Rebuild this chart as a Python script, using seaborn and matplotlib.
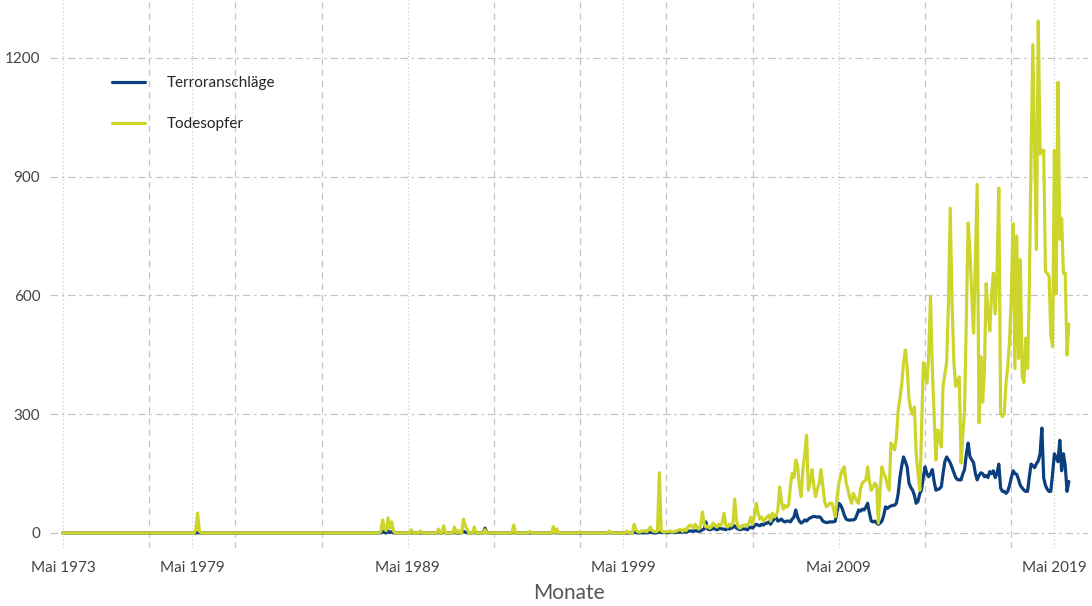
import matplotlib
matplotlib.use("Agg")
import matplotlib.pyplot as plt
import matplotlib.dates as mdates
import pandas as pd
import seaborn as sns

sns.set_style("white")
plt.rcParams["font.family"] = ["Lato", "DejaVu Sans"]

# ----------------------------
# Data (monthly counts, May 1973 - Jan 2020)
# ----------------------------
start_month = "1973-05"
end_month = "2020-01"

# before 2000 the series sit on zero except for these months
early_months = ["1979-07", "1979-08", "1979-09",
                "1988-02", "1988-03", "1988-04", "1988-05", "1988-06", "1988-07", "1988-08", "1988-09",
                "1989-07", "1989-12", "1990-10", "1991-01", "1991-07", "1991-09", "1991-12",
                "1992-01", "1992-02", "1992-06", "1992-12", "1994-04", "1995-01",
                "1996-02", "1996-04", "1997-05", "1998-09", "1999-07", "1999-11", "1999-12"]
early_attacks = [0, 1, 0,
                 0, 4, 1, 0, 5, 1, 3, 0,
                 1, 0, 1, 2, 1, 0, 4,
                 2, 1, 2, 12, 2, 0,
                 3, 1, 0, 1, 0, 2, 1]
early_deaths = [8, 50, 4,
                5, 33, 10, 6, 38, 12, 28, 5,
                8, 5, 10, 18, 15, 6, 35,
                18, 10, 15, 8, 20, 4,
                16, 10, 3, 5, 5, 22, 8]

# one row per year, 2000 ... 2019 (Jan - Dec)
attacks_by_year = [
    [0, 0, 1, 0, 1, 0, 1, 2, 1, 0, 0, 1],
    [3, 1, 1, 1, 1, 1, 2, 1, 1, 1, 2, 2],
    [2, 2, 3, 2, 4, 5, 5, 4, 6, 5, 4, 5],
    [8, 10, 28, 10, 8, 9, 12, 10, 8, 10, 12, 10],
    [10, 8, 12, 10, 12, 14, 18, 12, 10, 8, 10, 10],
    [10, 8, 12, 15, 12, 18, 22, 20, 18, 22, 20, 24],
    [25, 28, 22, 30, 35, 40, 30, 32, 35, 30, 28, 30],
    [30, 28, 35, 40, 58, 40, 30, 25, 28, 33, 30, 35],
    [38, 40, 42, 41, 40, 41, 38, 30, 28, 26, 27, 28],
    [28, 28, 30, 55, 75, 70, 60, 45, 35, 33, 32, 33],
    [33, 35, 45, 58, 55, 60, 58, 65, 75, 50, 30, 28],
    [30, 25, 22, 25, 30, 45, 66, 62, 66, 68, 70, 70],
    [75, 100, 140, 170, 192, 180, 167, 126, 115, 108, 95, 75],
    [80, 100, 108, 140, 167, 150, 142, 150, 160, 130, 108, 110],
    [112, 117, 150, 180, 192, 185, 177, 165, 152, 140, 135, 134],
    [134, 150, 160, 200, 227, 192, 185, 177, 150, 134, 145, 152],
    [150, 142, 145, 140, 155, 150, 157, 140, 150, 174, 114, 105],
    [105, 100, 105, 120, 140, 157, 150, 148, 135, 120, 114, 108],
    [105, 105, 140, 174, 170, 165, 175, 182, 200, 265, 139, 120],
    [110, 105, 105, 150, 200, 190, 180, 234, 157, 200, 170, 105],
]
deaths_by_year = [
    [3, 2, 5, 4, 6, 3, 8, 15, 6, 4, 3, 5],
    [152, 6, 3, 2, 4, 3, 5, 2, 3, 4, 6, 8],
    [8, 4, 10, 6, 15, 20, 18, 12, 22, 15, 10, 18],
    [53, 22, 15, 18, 12, 15, 25, 20, 15, 22, 18, 25],
    [50, 20, 15, 22, 18, 25, 86, 30, 15, 12, 18, 20],
    [20, 18, 25, 40, 22, 45, 75, 50, 35, 40, 30, 35],
    [40, 45, 30, 50, 40, 45, 55, 116, 80, 60, 70, 65],
    [70, 120, 150, 140, 184, 170, 120, 92, 163, 200, 247, 108],
    [130, 160, 120, 92, 110, 126, 160, 120, 80, 66, 70, 75],
    [75, 60, 41, 90, 126, 145, 160, 167, 126, 110, 90, 75],
    [100, 90, 80, 75, 110, 126, 130, 134, 167, 130, 108, 115],
    [126, 120, 25, 110, 167, 150, 142, 120, 108, 227, 220, 210],
    [240, 310, 340, 378, 430, 462, 420, 340, 310, 300, 318, 200],
    [150, 108, 250, 430, 400, 378, 450, 597, 412, 300, 184, 260],
    [240, 217, 370, 400, 430, 580, 820, 580, 430, 370, 380, 394],
    [177, 250, 310, 550, 783, 707, 600, 505, 700, 880, 278, 445],
    [330, 412, 630, 560, 510, 600, 656, 553, 665, 871, 303, 294],
    [300, 380, 420, 484, 600, 781, 415, 750, 441, 690, 398, 380],
    [492, 415, 604, 949, 1233, 957, 716, 1293, 957, 966, 966, 660],
    [656, 647, 501, 470, 966, 604, 1138, 742, 794, 656, 656, 449],
]
attacks_jan_2020 = 130
deaths_jan_2020 = 527

tick_years = [1973, 1979, 1989, 1999, 2009, 2019]
grid_years = list(range(1973, 2018, 4))

blue = "#0b3f7d"
yellow = "#cdd52c"

# ----------------------------
# Build monthly table
# ----------------------------
months = pd.period_range(start_month, end_month, freq="M")
attacks = pd.Series(0.0, index=months)
deaths = pd.Series(0.0, index=months)
for m, a, d in zip(early_months, early_attacks, early_deaths):
    attacks[pd.Period(m, freq="M")] = a
    deaths[pd.Period(m, freq="M")] = d

recent = pd.period_range("2000-01", end_month, freq="M")
attacks[recent] = [v for row in attacks_by_year for v in row] + [attacks_jan_2020]
deaths[recent] = [v for row in deaths_by_year for v in row] + [deaths_jan_2020]

df = pd.DataFrame({
    "Monat": months.to_timestamp(),
    "Terroranschläge": attacks.values,
    "Todesopfer": deaths.values,
})
long_df = df.melt(id_vars="Monat", var_name="Reihe", value_name="Anzahl")

# ----------------------------
# Plot
# ----------------------------
fig = plt.figure(figsize=(10.92, 6.06), dpi=100)
ax = fig.add_axes([0.0458, 0.0957, 0.9505, 0.9043])

sns.lineplot(data=long_df, x="Monat", y="Anzahl", hue="Reihe",
             palette=[blue, yellow], linewidth=2.3, ax=ax)

ax.set_xlim(pd.Timestamp("1972-09-25"), pd.Timestamp("2020-11-20"))
ax.set_ylim(-38, 1346)

major = [mdates.date2num(pd.Timestamp(f"{y}-05-01")) for y in tick_years]
minor = [mdates.date2num(pd.Timestamp(f"{y}-05-01")) for y in grid_years]
ax.set_xticks(major)
ax.set_xticklabels([f"Mai {y}" for y in tick_years])
ax.set_xticks(minor, minor=True)
ax.set_yticks([0, 300, 600, 900, 1200])

ax.grid(which="minor", axis="x", linestyle=(0, (5, 4)), color="#c4c4c4", linewidth=0.9)
ax.grid(which="major", axis="x", linestyle=(0, (1, 2)), color="#cfcfcf", linewidth=0.9)
ax.grid(which="major", axis="y", linestyle=(0, (6, 3, 2, 3)), color="#c4c4c4", linewidth=0.9)
ax.set_axisbelow(True)

for s in ax.spines.values():
    s.set_visible(False)

ax.tick_params(axis="x", which="both", length=0, pad=9, labelsize=11, labelcolor="#444444")
ax.tick_params(axis="y", length=5, color="#c4c4c4", width=0.9, pad=2, labelsize=11, labelcolor="#444444")

ax.set_xlabel("Monate", fontsize=15, color="#555555", labelpad=6)
ax.set_ylabel("")

ax.legend(title=None, frameon=False, loc="upper left", bbox_to_anchor=(0.046, 0.886),
          handlelength=2.2, handletextpad=1.4, labelspacing=1.75, fontsize=11,
          borderpad=0.4)

fig.savefig("out.png", dpi=100)
